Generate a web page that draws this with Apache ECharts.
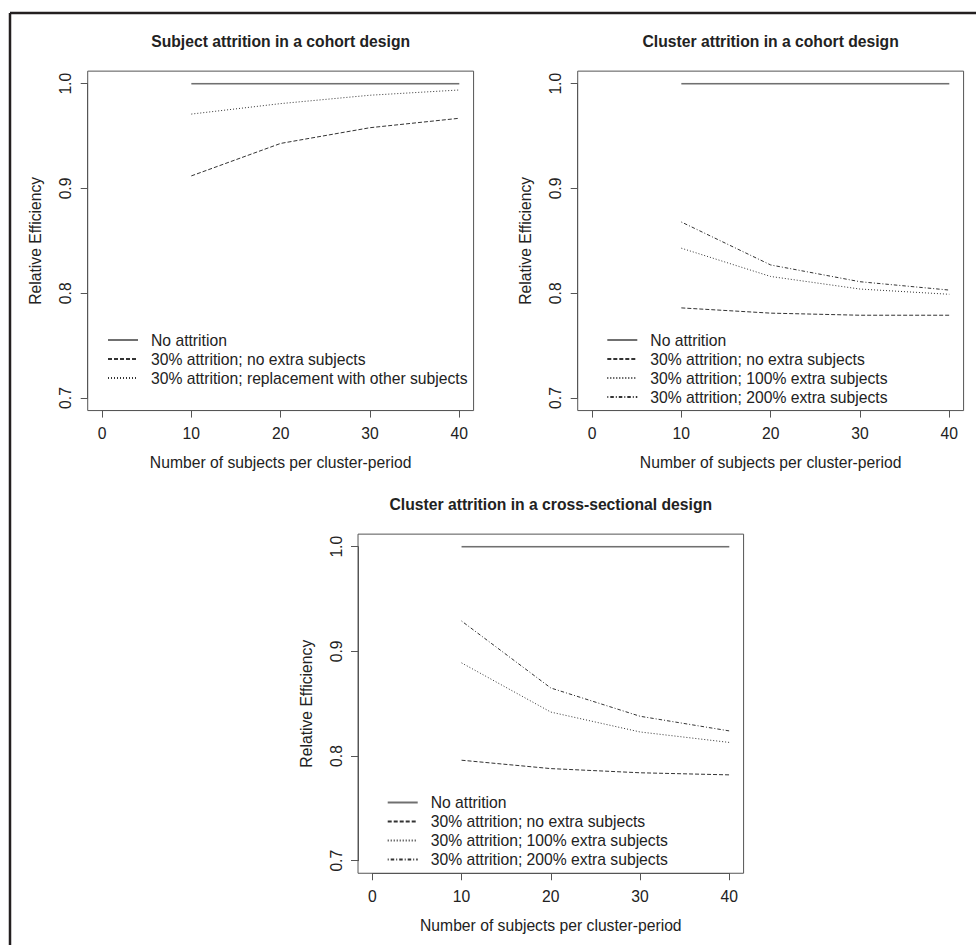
<!DOCTYPE html>
<html>
<head>
<meta charset="utf-8">
<script src="https://cdn.jsdelivr.net/npm/echarts@6/dist/echarts.min.js"></script>
<style>
html,body{margin:0;padding:0;background:#fff;}
#chart{width:976px;height:945px;}
</style>
</head>
<body>
<div id="chart"></div>
<script>
// ---- data ----
const xValues = [10, 20, 30, 40];
const xTicks = [0, 10, 20, 30, 40];
const yTicks = [0.7, 0.8, 0.9, 1.0];

const titles = [
  'Subject attrition in a cohort design',
  'Cluster attrition in a cohort design',
  'Cluster attrition in a cross-sectional design'
];
const xAxisTitle = 'Number of subjects per cluster-period';
const yAxisTitle = 'Relative Efficiency';

const nameNoAttr = 'No attrition';
const nameNoExtra = '30% attrition; no extra subjects';
const nameReplace = '30% attrition; replacement with other subjects';
const name100 = '30% attrition; 100% extra subjects';
const name200 = '30% attrition; 200% extra subjects';

// Panel 1: subject attrition, cohort
const p1NoAttr  = [1.000, 1.000, 1.000, 1.000];
const p1NoExtra = [0.912, 0.943, 0.958, 0.967];
const p1Replace = [0.971, 0.981, 0.989, 0.994];
// Panel 2: cluster attrition, cohort
const p2NoAttr  = [1.000, 1.000, 1.000, 1.000];
const p2NoExtra = [0.786, 0.781, 0.779, 0.779];
const p2Extra100 = [0.843, 0.816, 0.804, 0.799];
const p2Extra200 = [0.868, 0.827, 0.811, 0.803];
// Panel 3: cluster attrition, cross-sectional
const p3NoAttr  = [1.000, 1.000, 1.000, 1.000];
const p3NoExtra = [0.796, 0.788, 0.784, 0.782];
const p3Extra100 = [0.889, 0.842, 0.823, 0.813];
const p3Extra200 = [0.929, 0.865, 0.838, 0.824];

// ---- layout / style ----
const FONT = '"Liberation Sans", Arial, sans-serif';
const FS = 15.7;
const TXT = '#222';
const AX = '#555';
const panels = [
  {left: 102,   top: 83.7,  w: 357.3, h: 314.3, titleY: 41.7,
   legend: {left: 107, top: 332}},
  {left: 592,   top: 83.7,  w: 357.3, h: 314.3, titleY: 41.7,
   legend: {left: 606.3, top: 332}},
  {left: 372.3, top: 546.7, w: 357,   h: 314,   titleY: 504.3,
   legend: {left: 386.7, top: 794.5}}
];

const styles = {
  solid:   {type: 'solid', color: '#707070', width: 1.7},
  dashed:  {type: [4, 2], color: '#333', width: 1},
  dotted:  {type: [1, 2], color: '#333', width: 1},
  dotdash: {type: [1, 2, 3.5, 2], color: '#333', width: 1}
};

const panelSeries = [
  [[nameNoAttr, p1NoAttr, 'solid'], [nameNoExtra, p1NoExtra, 'dashed'], [nameReplace, p1Replace, 'dotted']],
  [[nameNoAttr, p2NoAttr, 'solid'], [nameNoExtra, p2NoExtra, 'dashed'], [name100, p2Extra100, 'dotted'], [name200, p2Extra200, 'dotdash']],
  [[nameNoAttr, p3NoAttr, 'solid'], [nameNoExtra, p3NoExtra, 'dashed'], [name100, p3Extra100, 'dotted'], [name200, p3Extra200, 'dotdash']]
];

const grid = [], xAxis = [], yAxis = [], series = [], legend = [], graphic = [];

panels.forEach((p, i) => {
  const offX = 0.04 * p.h;   // R's 4% axis extension
  const offY = 0.04 * p.w;
  grid.push({left: p.left, top: p.top, width: p.w, height: p.h, show: false});
  xAxis.push({
    gridIndex: i, type: 'value', min: xTicks[0], max: xTicks[xTicks.length - 1], interval: 10,
    offset: offX,
    axisLine: {show: true, onZero: false, lineStyle: {color: AX, width: 1}},
    axisTick: {show: true, length: 7, lineStyle: {color: AX}},
    splitLine: {show: false},
    axisLabel: {color: TXT, fontFamily: FONT, fontSize: FS, margin: 15},
    name: xAxisTitle, nameLocation: 'middle', nameGap: 44,
    nameTextStyle: {color: TXT, fontFamily: FONT, fontSize: FS}
  });
  yAxis.push({
    gridIndex: i, type: 'value', min: yTicks[0], max: yTicks[yTicks.length - 1], interval: 0.1,
    offset: offY,
    axisLine: {show: true, onZero: false, lineStyle: {color: AX, width: 1}},
    axisTick: {show: true, length: 7, lineStyle: {color: AX}},
    splitLine: {show: false},
    axisLabel: {color: TXT, fontFamily: FONT, fontSize: FS, margin: 14, rotate: 90,
      formatter: v => v.toFixed(1)},
    name: yAxisTitle, nameLocation: 'middle', nameGap: 44, nameRotate: 90,
    nameTextStyle: {color: TXT, fontFamily: FONT, fontSize: FS}
  });
  // plot box
  graphic.push({
    type: 'rect', silent: true, z: 0,
    shape: {x: p.left - offY, y: p.top - offX, width: p.w + 2 * offY, height: p.h + 2 * offX},
    style: {fill: null, stroke: AX, lineWidth: 1}
  });
  // title
  graphic.push({
    type: 'text', silent: true, x: p.left + p.w / 2, y: p.titleY,
    style: {text: titles[i], textAlign: 'center', textVerticalAlign: 'middle',
      font: 'bold ' + FS + 'px ' + FONT, fill: TXT}
  });
  const names = [];
  panelSeries[i].forEach(([nm, vals, st]) => {
    names.push(nm);
    series.push({
      type: 'line', name: nm, xAxisIndex: i, yAxisIndex: i,
      data: xValues.map((x, k) => [x, vals[k]]),
      symbol: 'none', smooth: false, silent: true, animation: false,
      lineStyle: Object.assign({}, styles[st]),
      itemStyle: {color: styles[st].color}
    });
  });
  legend.push({
    left: p.legend.left, top: p.legend.top, orient: 'vertical', padding: 0,
    itemWidth: 30, itemHeight: 12, itemGap: 3,
    selectedMode: false, data: names,
    itemStyle: {opacity: 0},
    textStyle: {color: TXT, fontFamily: FONT, fontSize: FS, lineHeight: 16, padding: [0, 0, 0, 8]}
  });
});

// outer frame (top and left edges visible)
graphic.push({type: 'line', silent: true, shape: {x1: 10, y1: 13, x2: 976, y2: 13}, style: {stroke: '#231f20', lineWidth: 2.5}});
graphic.push({type: 'line', silent: true, shape: {x1: 10, y1: 13, x2: 10, y2: 945}, style: {stroke: '#231f20', lineWidth: 2.5}});

const chart = echarts.init(document.getElementById('chart'), null, {renderer: 'svg'});
chart.setOption({
  animation: false,
  backgroundColor: '#fff',
  grid, xAxis, yAxis, series, legend, graphic
});
</script>
</body>
</html>
